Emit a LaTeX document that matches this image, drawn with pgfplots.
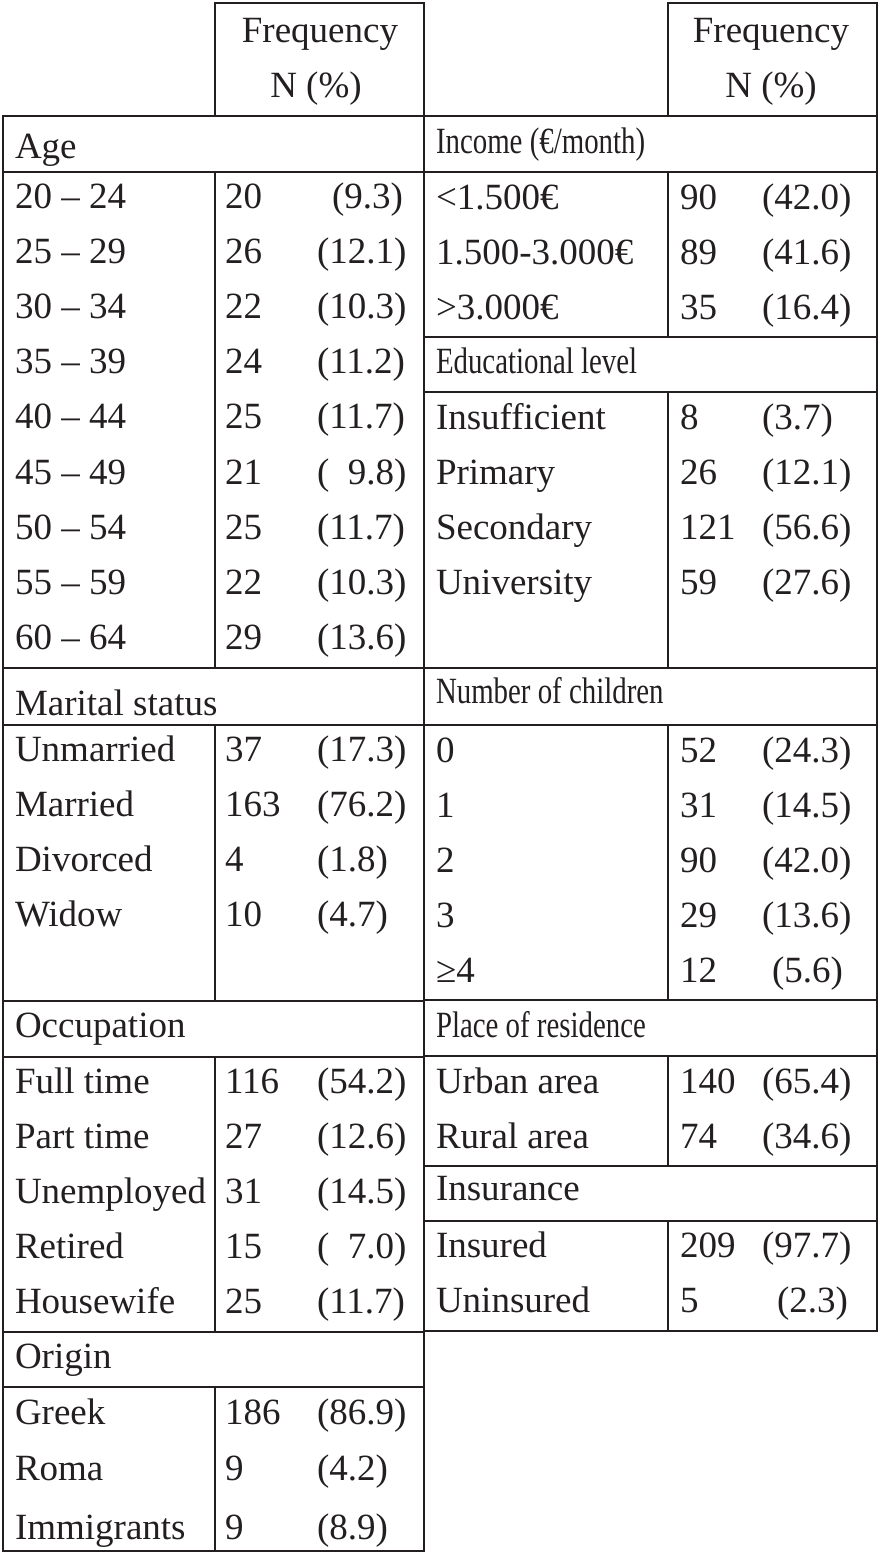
\documentclass[border=0pt]{standalone}
\usepackage{pgfplots}
\pgfplotsset{compat=1.18}
\usepackage{graphicx}
\usepackage{fontspec}
\setmainfont{Liberation Serif}
\definecolor{ink}{RGB}{35,31,32}
\newcommand{\T}[3]{\node[anchor=base west] at (axis cs:#1,#2) {#3};}
\newcommand{\R}[3]{\node[anchor=base east] at (axis cs:#1,#2) {#3};}
\newcommand{\C}[3]{\node[anchor=base] at (axis cs:#1,#2) {#3};}
\newcommand{\cond}[1]{\scalebox{0.78}[1]{#1}}
\newcommand{\hl}[3]{\addplot[ink,line width=1pt,line cap=rect,mark=none] coordinates {(#2,#1) (#3,#1)};}
\newcommand{\vl}[3]{\addplot[ink,line width=1pt,line cap=rect,mark=none] coordinates {(#1,#2) (#1,#3)};}
% left rows: label, N, percent, baseline y
\newcommand{\LR}[4]{\T{15}{#4}{#1}\T{225}{#4}{#2}\T{317}{#4}{#3}}
\newcommand{\RR}[4]{\T{436}{#4}{#1}\T{680}{#4}{#2}\T{762}{#4}{#3}}
\begin{document}
\begin{tikzpicture}[every node/.style={inner sep=0pt,outer sep=0pt,text=ink,font=\fontsize{18.5}{22}\selectfont}]
\begin{axis}[
  width=441pt, height=779pt, scale only axis,
  xmin=0, xmax=882, ymin=0, ymax=1558, y dir=reverse,
  hide axis, clip=false]
\addplot[draw=none,mark=none] coordinates {(0,0) (882,0) (882,1558) (0,1558)};
% ---- horizontal lines
\hl{3}{215}{424}
\hl{3}{668}{877}
\hl{116}{3}{877}
\hl{172}{3}{424}
\hl{668}{3}{424}
\hl{725}{3}{424}
\hl{1001}{3}{424}
\hl{1057}{3}{424}
\hl{1332}{3}{424}
\hl{1387}{3}{424}
\hl{1551}{3}{424}
\hl{172}{424}{877}
\hl{337}{424}{877}
\hl{392}{424}{877}
\hl{668}{424}{877}
\hl{725}{424}{877}
\hl{1000}{424}{877}
\hl{1056}{424}{877}
\hl{1166}{424}{877}
\hl{1221}{424}{877}
\hl{1331}{424}{877}
% ---- vertical lines
\vl{3}{116}{1551}
\vl{424}{3}{1551}
\vl{877}{3}{1331}
\vl{215}{3}{116}
\vl{215}{172}{668}
\vl{215}{725}{1001}
\vl{215}{1057}{1332}
\vl{215}{1387}{1551}
\vl{668}{3}{116}
\vl{668}{172}{337}
\vl{668}{392}{668}
\vl{668}{725}{1000}
\vl{668}{1056}{1166}
\vl{668}{1221}{1331}
% ---- column headers
\C{320}{42}{Frequency}
\C{316}{97}{N (\%)}
\C{771}{42}{Frequency}
\C{771}{97}{N (\%)}
% ---- left table
\T{15}{158}{Age}
\T{15}{208.5}{20 -- 24}\T{225}{208.5}{20}\R{403}{208.5}{(9.3)}
\LR{25 -- 29}{26}{(12.1)}{263.6}
\LR{30 -- 34}{22}{(10.3)}{318.7}
\LR{35 -- 39}{24}{(11.2)}{373.8}
\LR{40 -- 44}{25}{(11.7)}{428.9}
\LR{45 -- 49}{21}{(\hphantom{0}9.8)}{484.0}
\LR{50 -- 54}{25}{(11.7)}{539.1}
\LR{55 -- 59}{22}{(10.3)}{594.2}
\LR{60 -- 64}{29}{(13.6)}{649.3}
\T{15}{715}{Marital status}
\LR{Unmarried}{37}{(17.3)}{761}
\LR{Married}{163}{(76.2)}{816}
\LR{Divorced}{4}{(1.8)}{871}
\LR{Widow}{10}{(4.7)}{926}
\T{15}{1037}{Occupation}
\LR{Full time}{116}{(54.2)}{1093}
\LR{Part time}{27}{(12.6)}{1148}
\LR{Unemployed}{31}{(14.5)}{1203}
\LR{Retired}{15}{(\hphantom{0}7.0)}{1258}
\LR{Housewife}{25}{(11.7)}{1313}
\T{15}{1368}{Origin}
\LR{Greek}{186}{(86.9)}{1424}
\LR{Roma}{9}{(4.2)}{1480}
\LR{Immigrants}{9}{(8.9)}{1539}
% ---- right table
\T{436}{153}{\cond{Income (€/month)}}
\RR{<1.500€}{90}{(42.0)}{209}
\RR{1.500-3.000€}{89}{(41.6)}{264}
\RR{>3.000€}{35}{(16.4)}{319}
\T{436}{373}{\cond{Educational level}}
\RR{Insufficient}{8}{(3.7)}{429}
\RR{Primary}{26}{(12.1)}{484}
\RR{Secondary}{121}{(56.6)}{539}
\RR{University}{59}{(27.6)}{594}
\T{436}{703}{\cond{Number of children}}
\RR{0}{52}{(24.3)}{762}
\RR{1}{31}{(14.5)}{817}
\RR{2}{90}{(42.0)}{872}
\RR{3}{29}{(13.6)}{927}
\T{436}{982}{≥4}\T{680}{982}{12}\T{772}{982}{(5.6)}
\T{436}{1037}{\cond{Place of residence}}
\RR{Urban area}{140}{(65.4)}{1093}
\RR{Rural area}{74}{(34.6)}{1148}
\T{436}{1200}{Insurance}
\RR{Insured}{209}{(97.7)}{1257}
\T{436}{1312}{Uninsured}\T{680}{1312}{5}\R{848}{1312}{(2.3)}
\end{axis}
\end{tikzpicture}
\end{document}
